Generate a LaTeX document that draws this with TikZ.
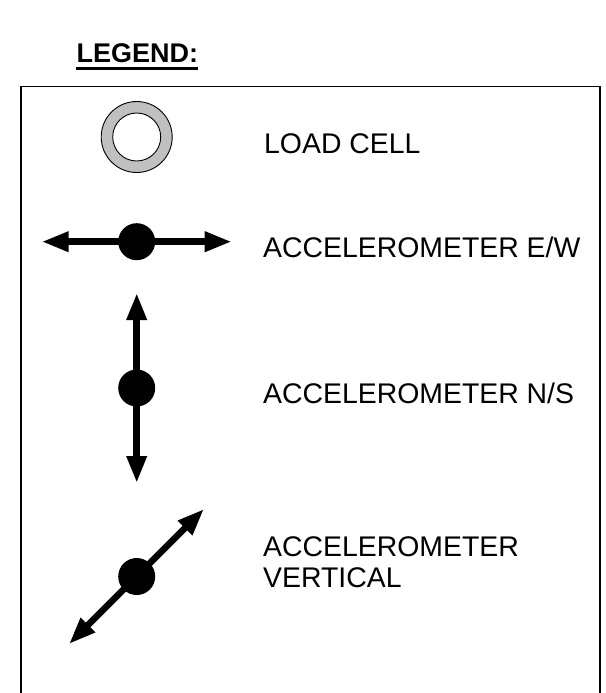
\documentclass[tikz,border=0pt]{standalone}
\usepackage{fontspec}
\setmainfont{Liberation Sans}
\usetikzlibrary{arrows.meta}
\definecolor{cellgray}{RGB}{192,192,192}
\tikzset{
  lbl/.style={anchor=base west, inner sep=0pt, font=\fontsize{28.4}{31}\selectfont, align=left},
  ttl/.style={anchor=base west, inner sep=0pt, font=\fontsize{27}{31}\selectfont\bfseries},
  axis/.style={line width=6.5pt, {Triangle[length=27pt,width=19pt]}-{Triangle[length=27pt,width=19pt]}},
  dot/.style={circle, fill=black, draw=none, minimum size=37pt, inner sep=0pt},
  frame/.style={line width=1.5pt}
}
\begin{document}
\begin{tikzpicture}[x=1pt,y=-1pt]
\useasboundingbox (0,0) rectangle (605,693);
% legend title
\node[ttl] (title) at (76.5,63) {LEGEND:};
\draw[line width=3pt] (title.base west) ++(-1,5.5) coordinate (ul1) -- (title.base east |- ul1);
% box
\coordinate (bl) at (21,700);
\coordinate (tl) at (21,86.5);
\coordinate (tr) at (600,86.5);
\coordinate (br) at (600,700);
\draw[frame] (bl) -- (tl) -- (tr) -- (br);
% load cell
\coordinate (lc) at (136.7,137);
\filldraw[fill=cellgray, draw=black, line width=0.9pt] (lc) circle[radius=35.5];
\filldraw[fill=white, draw=black, line width=0.9pt] (lc) circle[radius=24];
\node[lbl] (tlc) at (264,153) {LOAD CELL};
% E/W
\coordinate (ewl) at (41.7,241.7);
\coordinate (ewr) at (231.7,241.7);
\draw[axis] (ewl) -- (ewr);
\node[dot] (ew) at (136.7,241.7) {};
\node[lbl] (tew) at (263,257) {ACCELEROMETER E/W};
% N/S
\coordinate (nst) at (136.7,293);
\coordinate (nsb) at (136.7,483);
\draw[axis] (nst) -- (nsb);
\node[dot] (ns) at (136.7,388) {};
\node[lbl] (tns) at (263,403) {ACCELEROMETER N/S};
% vertical
\coordinate (vtr) at (204,509);
\coordinate (vbl) at (69,644);
\draw[axis] (vbl) -- (vtr);
\node[dot] (vt) at (136.7,576.5) {};
\node[lbl] (tvt) at (263,587) {ACCELEROMETER\\VERTICAL};
\end{tikzpicture}
\end{document}
